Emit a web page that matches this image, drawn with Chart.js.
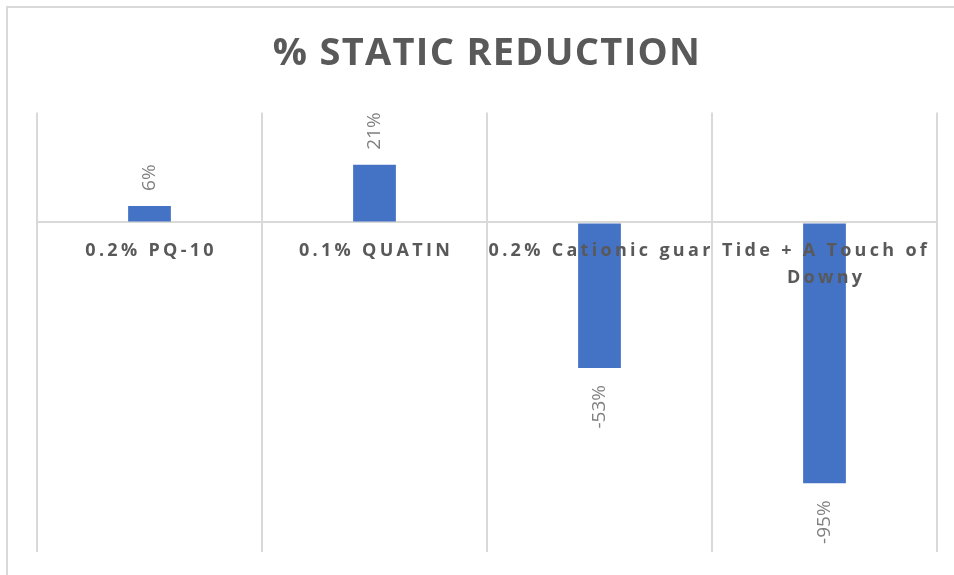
<!DOCTYPE html>
<html>
<head>
<meta charset="utf-8">
<script src="https://cdn.jsdelivr.net/npm/chart.js@4/dist/chart.umd.min.js"></script>
<style>
  html, body { margin: 0; padding: 0; background: #ffffff; }
  #wrap { position: relative; width: 954px; height: 575px; }
  canvas { display: block; }
</style>
</head>
<body>
<div id="wrap"><canvas id="c" width="954" height="575"></canvas></div>
<script>
// ---- data ----
const chartTitle = '% STATIC REDUCTION';
const categories = ['0.2% PQ-10', '0.1% QUATIN', '0.2% Cationic guar', ['Tide + A Touch of', 'Downy']];
const values = [0.06, 0.21, -0.53, -0.95];
const axisMin = -1.2;
const axisMax = 0.4;

const pct = v => Math.round(v * 100) + '%';

// background + outer chart border
const framePlugin = {
  id: 'frame',
  beforeDraw(chart) {
    const ctx = chart.ctx;
    ctx.save();
    ctx.fillStyle = '#ffffff';
    ctx.fillRect(0, 0, chart.width, chart.height);
    ctx.fillStyle = '#d9d9d9';
    ctx.fillRect(6, 6, chart.width - 6, 2);
    ctx.fillRect(6, 6, 2, chart.height - 6);
    ctx.restore();
    try { ctx.letterSpacing = '1.3px'; } catch (e) {}
  }
};

// category labels next to the zero line + rotated data labels
const labelPlugin = {
  id: 'labels',
  beforeDatasetsDraw(chart) {
    try { chart.ctx.letterSpacing = '0px'; } catch (e) {}
  },
  afterDatasetsDraw(chart) {
    const ctx = chart.ctx;
    const xs = chart.scales.x;
    const ys = chart.scales.y;
    const zeroY = ys.getPixelForValue(0);
    ctx.save();
    try { ctx.letterSpacing = '0px'; } catch (e) {}
    // data labels
    const meta = chart.getDatasetMeta(0);
    ctx.font = '19px "Open Sans", sans-serif';
    ctx.fillStyle = '#808080';
    ctx.textBaseline = 'middle';
    meta.data.forEach((bar, i) => {
      const v = values[i];
      ctx.save();
      if (v >= 0) {
        ctx.translate(bar.x, bar.y - 15);
        ctx.rotate(-Math.PI / 2);
        ctx.textAlign = 'left';
      } else {
        ctx.translate(bar.x, bar.y + 17);
        ctx.rotate(-Math.PI / 2);
        ctx.textAlign = 'right';
      }
      ctx.fillText(pct(v), 0, 0);
      ctx.restore();
    });
    // category labels
    ctx.font = 'bold 18px "Open Sans", sans-serif';
    ctx.fillStyle = '#595959';
    ctx.textAlign = 'center';
    ctx.textBaseline = 'middle';
    try { ctx.letterSpacing = '3.3px'; } catch (e) {}
    categories.forEach((lab, i) => {
      const cx = xs.getPixelForValue(i) + 1.6;
      const lines = Array.isArray(lab) ? lab : [lab];
      lines.forEach((ln, j) => {
        ctx.fillText(ln, cx, zeroY + 28 + j * 27);
      });
    });
    ctx.restore();
  }
};

new Chart(document.getElementById('c'), {
  type: 'bar',
  data: {
    labels: categories,
    datasets: [{
      data: values,
      backgroundColor: '#4472C4',
      borderWidth: 0,
      barPercentage: 0.19,
      categoryPercentage: 1
    }]
  },
  options: {
    responsive: false,
    devicePixelRatio: 1,
    animation: false,
    layout: { padding: { left: 37, right: 17, top: 0, bottom: 23 } },
    plugins: {
      legend: { display: false },
      tooltip: { enabled: false },
      title: {
        display: true,
        text: chartTitle,
        color: '#595959',
        font: { family: '"Open Sans", sans-serif', size: 38, weight: 'bold', lineHeight: 1.2 },
        padding: { top: 31, bottom: 36 }
      }
    },
    scales: {
      x: {
        offset: true,
        ticks: { display: false },
        border: { display: false },
        grid: { offset: true, color: '#d9d9d9', lineWidth: 2, drawTicks: false }
      },
      y: {
        min: axisMin,
        max: axisMax,
        ticks: { display: false, stepSize: 0.2 },
        border: { display: false },
        grid: {
          drawTicks: false,
          lineWidth: 2,
          color: c => (c.tick && Math.abs(c.tick.value) < 1e-9) ? '#d9d9d9' : 'rgba(0,0,0,0)'
        }
      }
    }
  },
  plugins: [framePlugin, labelPlugin]
});
</script>
</body>
</html>
